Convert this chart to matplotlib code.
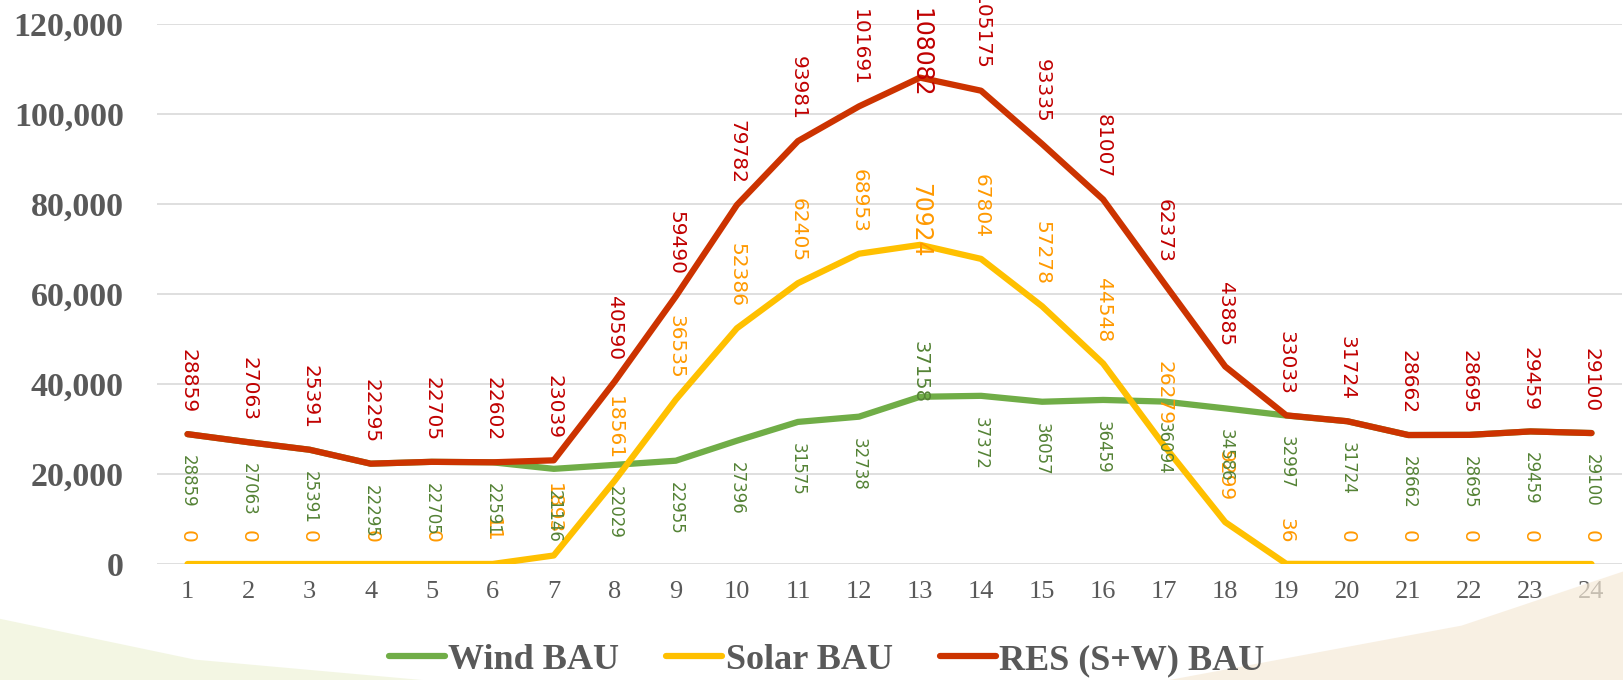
import numpy as np
import matplotlib.pyplot as plt
from matplotlib.patches import Polygon

# Hourly generation (BAU scenario)
hours = list(range(1, 25))
wind = [28859, 27063, 25391, 22295, 22705, 22591, 21146, 22029, 22955, 27396, 31575, 32738,
        37158, 37372, 36057, 36459, 36094, 34586, 32997, 31724, 28662, 28695, 29459, 29100]
solar = [0, 0, 0, 0, 0, 11, 1893, 18561, 36535, 52386, 62405, 68953,
         70924, 67804, 57278, 44548, 26279, 9299, 36, 0, 0, 0, 0, 0]
res = [28859, 27063, 25391, 22295, 22705, 22602, 23039, 40590, 59490, 79782, 93981, 101691,
       108082, 105175, 93335, 81007, 62373, 43885, 33033, 31724, 28662, 28695, 29459, 29100]
series_names = ['Wind BAU', 'Solar BAU', 'RES (S+W) BAU']
yticks = [0, 20000, 40000, 60000, 80000, 100000, 120000]
peak_hour = 13

fig = plt.figure(figsize=(16.24, 6.8), dpi=100)
fig.patch.set_facecolor('white')

# faint decorative background swooshes
fig.patches.append(Polygon([[0, 0], [0, 0.09], [0.12, 0.03], [0.26, 0]], closed=True,
                           transform=fig.transFigure, fc='#eef3d8', ec='none', alpha=0.7, zorder=0))
fig.patches.append(Polygon([[0.72, 0], [0.9, 0.08], [1, 0.16], [1, 0]], closed=True,
                           transform=fig.transFigure, fc='#f6ead8', ec='none', alpha=0.7, zorder=0))

ax = fig.add_axes([157 / 1624, 116 / 680, 1465 / 1624, 540 / 680])
ax.patch.set_alpha(0)

ax.plot(hours, wind, color='#70AD47', lw=4.5, solid_capstyle='round', label=series_names[0], zorder=3)
ax.plot(hours, solar, color='#FFC000', lw=4.5, solid_capstyle='round', label=series_names[1], zorder=4)
ax.plot(hours, res, color='#CC3300', lw=4.5, solid_capstyle='round', label=series_names[2], zorder=5)

# data labels (vertical)
def put_labels(values, color, size, above):
    for h, v in zip(hours, values):
        if h == peak_hour:
            ax.annotate(str(v), (h, v), xytext=(0, 18), textcoords='offset points',
                        rotation=-90, ha='center', va='center', color=color,
                        fontsize=size * 1.17, zorder=6)
        else:
            ax.annotate(str(v), (h, v), xytext=(0, 15 if above else -15), textcoords='offset points',
                        rotation=-90, ha='center', va='bottom' if above else 'top',
                        color=color, fontsize=size, zorder=6)

put_labels(res, '#C00000', 14.5, True)
put_labels(solar, '#FF9900', 14.5, True)
put_labels(wind, '#548235', 12, False)

ax.set_xlim(0.5, 24.5)
ax.set_ylim(0, 120000)
ax.set_xticks(hours)
ax.set_xticklabels([str(h) for h in hours], fontsize=19, color='#595959', family='Liberation Serif')
ax.set_yticks(yticks)
ax.set_yticklabels([f'{t:,}' for t in yticks], fontsize=24.5, fontweight='bold',
                   color='#595959', family='Liberation Serif')
ax.tick_params(axis='both', length=0)
ax.tick_params(axis='x', pad=12)
ax.tick_params(axis='y', pad=24)
ax.grid(axis='y', color='#D9D9D9', lw=1.2)
ax.set_axisbelow(True)
for s in ax.spines.values():
    s.set_visible(False)

leg = fig.legend(loc='center', bbox_to_anchor=(0.509, 0.029), ncol=3, frameon=False,
                 handlelength=1.55, handletextpad=0.1, columnspacing=1.3,
                 prop={'family': 'Liberation Serif', 'weight': 'bold', 'size': 26})
for t in leg.get_texts():
    t.set_color('#595959')

fig.savefig('out.png', dpi=100)
